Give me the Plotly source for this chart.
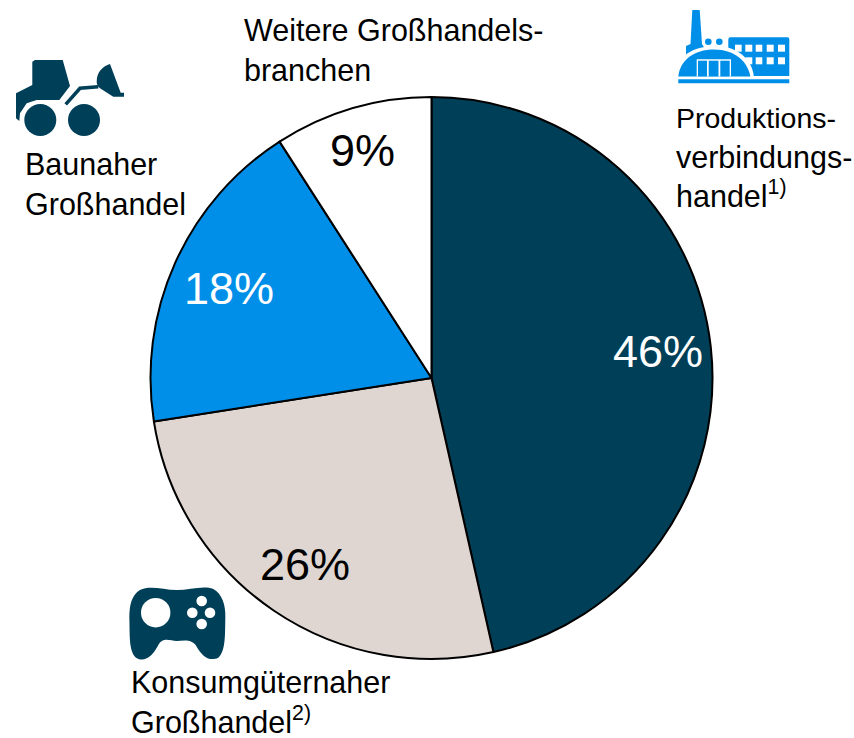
import plotly.graph_objects as go

categories = ["Produktionsverbindungshandel", "Konsumgüternaher Großhandel", "Baunaher Großhandel", "Weitere Großhandelsbranchen"]
shares = [46, 25.8, 18.2, 9]
share_labels = ["46%", "26%", "18%", "9%"]
slice_colors = ["#003F58", "#DFD6D1", "#008FE8", "#FFFFFF"]
label_colors = ["white", "black", "white", "black"]

W, H = 854, 738
DARK, BLUE = "#003F58", "#008FE8"
FONT = "Liberation Sans"

def X(x): return x / W
def Y(y): return 1 - y / H

fig = go.Figure(go.Pie(
    labels=categories, values=shares, sort=False, direction="clockwise", rotation=0,
    marker=dict(colors=slice_colors, line=dict(color="black", width=2)),
    textinfo="none", hoverinfo="label+percent", showlegend=False,
    domain=dict(x=[X(150.5), X(712.5)], y=[Y(659), Y(97)]),
))

def txt(x, y, text, size=30.5, color="black", xanchor="left", yanchor="top", align="left"):
    fig.add_annotation(xref="paper", yref="paper", x=X(x), y=Y(y), text=text, showarrow=False,
                       xanchor=xanchor, yanchor=yanchor, align=align,
                       font=dict(family=FONT, size=size, color=color), borderpad=0, borderwidth=0)

for lab, col, (cx, cy) in zip(share_labels, label_colors, [(658, 352), (305, 564), (229, 288), (362, 150)]):
    txt(cx, cy, lab, size=45, color=col, xanchor="center", yanchor="middle", align="center")

txt(244, 13, "Weitere Großhandels-<br>branchen")
txt(676, 102, "<span style='font-size:28.5px'>Produktions-</span><br>verbindungs-<br>handel<sup style='font-size:19px'>1)</sup>")
txt(25, 147, "Baunaher<br>Großhandel")
txt(131, 665, "Konsumgüternaher<br>Großhandel<sup style='font-size:19px'>2)</sup>")

def path(d, fill, line=None, lw=0):
    out = []
    for t in d.split():
        if "," in t:
            a, b = t.split(",")
            out.append(f"{X(float(a)):.5f},{Y(float(b)):.5f}")
        else:
            out.append(t)
    fig.add_shape(type="path", xref="paper", yref="paper", path=" ".join(out), fillcolor=fill,
                  line=dict(color=line or fill, width=lw))

def rect(x0, y0, x1, y1, fill):
    fig.add_shape(type="rect", xref="paper", yref="paper", x0=X(x0), x1=X(x1), y0=Y(y0), y1=Y(y1),
                  fillcolor=fill, line=dict(width=0))

def ell(cx, cy, rx, ry, fill):
    fig.add_shape(type="circle", xref="paper", yref="paper", x0=X(cx-rx), x1=X(cx+rx), y0=Y(cy-ry), y1=Y(cy+ry),
                  fillcolor=fill, line=dict(width=0))

# factory icon
path("M 692.3,10 L 699.7,10 L 702,44 L 712,60 L 686,60 L 686,46 L 690.5,44 Z", BLUE)
ell(708.3, 41.7, 3.3, 3.3, BLUE)
ell(719.3, 41.7, 3.3, 3.3, BLUE)
path("M 730,37.3 L 787.5,37.3 C 789,37.3 789.3,38.5 789.3,40 L 789.3,76 L 728.3,76 L 728.3,40 C 728.3,38.5 729,37.3 730,37.3 Z", BLUE)
for wy0, wy1 in [(44.7, 51.7), (57.3, 64.3)]:
    for wx0, wx1 in [(735, 741.7), (745.3, 752.3), (755.7, 762.3), (766.7, 773.7), (778, 785)]:
        rect(wx0, wy0, wx1, wy1, "white")
path("M 673,80 C 673,60 690,46 715,46 C 740,46 754,62 754,80 Z", "white")
path("M 678.3,76.5 C 680,60 694,49.5 714,49.5 C 735,49.5 748,62 750.3,76.5 Z", BLUE)
rect(696.7, 59.3, 731, 76.5, "white")
for a, b in [(698, 707), (708.7, 718.5), (720.3, 729.7)]:
    rect(a, 60.7, b, 76.5, BLUE)
rect(678.3, 79.3, 789.3, 83.3, BLUE)

# loader icon
path("M 32.3,61.7 L 35,60 L 62.7,60 L 70,86 L 59.3,100 L 36.7,100 L 26.7,103.3 L 20,113.3 L 19.3,121 L 16,118.3 L 16,93.3 L 32.3,85 Z", DARK)
ell(40.3, 120, 16, 16, DARK)
ell(84, 120, 16, 16, DARK)
path("M 65.7,104.3 L 80,88.3 L 98.3,86.7", "rgba(0,0,0,0)", line=DARK, lw=3.5)
path("M 96.7,81.7 C 96.7,72 103,66 110,64 L 120.7,92.7 L 124,92.7 L 124,96.7 L 113.3,96.7 L 100,88.3 C 97.5,86 96.7,84 96.7,81.7 Z", DARK)

# game pad icon
def g(x, y): return f"{120 + x/3:.2f},{575 + y/3:.2f}"
pad = [("M", [(60,45)]),
       ("C", [(90,30),(130,45),(170,45)]), ("C", [(210,45),(250,30),(280,42)]),
       ("C", [(305,55),(318,90),(316,130)]), ("C", [(315,170),(318,230),(295,248)]),
       ("C", [(265,262),(245,240),(230,215)]), ("C", [(215,190),(190,198),(170,198)]),
       ("C", [(150,198),(130,185),(115,210)]), ("C", [(100,240),(75,265),(48,248)]),
       ("C", [(25,230),(30,170),(28,130)]), ("C", [(28,90),(35,60),(60,45)])]
path(" ".join(c + " " + " ".join(g(*p) for p in pts) for c, pts in pad) + " Z", DARK)
ell(155.7, 612.7, 14.7, 14.7, "white")
for cx, cy in [(201.7, 601), (192.3, 612.7), (210, 612.7), (201.7, 624)]:
    ell(cx, cy, 5.3, 5.3, "white")

fig.update_layout(width=W, height=H, margin=dict(l=0, r=0, t=0, b=0), paper_bgcolor="white",
                  plot_bgcolor="white", font=dict(family=FONT))
fig.write_html("out.html", config={"displayModeBar": False}, post_script="document.body.style.margin='0';")
